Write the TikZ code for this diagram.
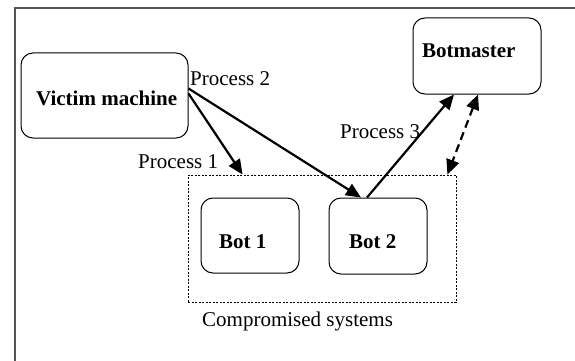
\documentclass[tikz,border=0pt]{standalone}
\usepackage{fontspec}
\setmainfont{Liberation Serif}
\usetikzlibrary{arrows.meta}
\begin{document}
\begin{tikzpicture}[x=1pt,y=-1pt,
  box/.style={draw=black,line width=1pt,rounded corners=12pt,inner sep=0pt},
  lbl/.style={inner sep=0pt,anchor=base west,font=\fontsize{21}{25}\selectfont},
  blbl/.style={lbl,font=\fontsize{21}{25}\selectfont\bfseries},
  arr/.style={line width=2.2pt,-{Triangle[length=15pt,width=13pt]}},
  darr/.style={line width=2.2pt,dash pattern=on 8pt off 5pt,{Triangle[length=15pt,width=13pt]}-{Triangle[length=15pt,width=13pt]}}]
\useasboundingbox (0,0) rectangle (575,361);
\draw[line width=2pt,color=black!67] (14.5,362) -- (14.5,8.5) -- (576,8.5);
\node[box,minimum width=167pt,minimum height=85pt] (v) at (104.5,95.5) {};
\node[blbl] (vt) at (36,105) {Victim machine};
\node[box,minimum width=128pt,minimum height=76pt] (bm) at (477,56) {};
\node[blbl] (bmt) at (422,57) {Botmaster};
\node[draw=black,line width=0.8pt,dash pattern=on 2pt off 1.5pt,minimum width=268pt,minimum height=127pt,inner sep=0pt] (cs) at (322,238.5) {};
\node[box,minimum width=98pt,minimum height=75pt] (b1) at (250,235.5) {};
\node[blbl] (b1t) at (219,248) {Bot 1};
\node[box,minimum width=98pt,minimum height=76pt] (b2) at (378,236) {};
\node[blbl] (b2t) at (349,248) {Bot 2};
\node[lbl] (p2) at (190,85) {Process 2};
\node[lbl] (p1) at (138,168) {Process 1};
\node[lbl] (p3) at (340,138) {Process 3};
\node[lbl] (cst) at (202,326) {Compromised systems};
\draw[arr] ([yshift=2pt]v.east) -- ([xshift=55pt]cs.north west);
\draw[arr] ([yshift=7pt]v.east) -- ([xshift=-17pt]b2.north);
\draw[arr] ([xshift=-11pt]b2.north) -- ([xshift=-23pt]bm.south);
\draw[darr] ([xshift=1pt]bm.south) -- ([xshift=-9pt]cs.north east);
\end{tikzpicture}
\end{document}
